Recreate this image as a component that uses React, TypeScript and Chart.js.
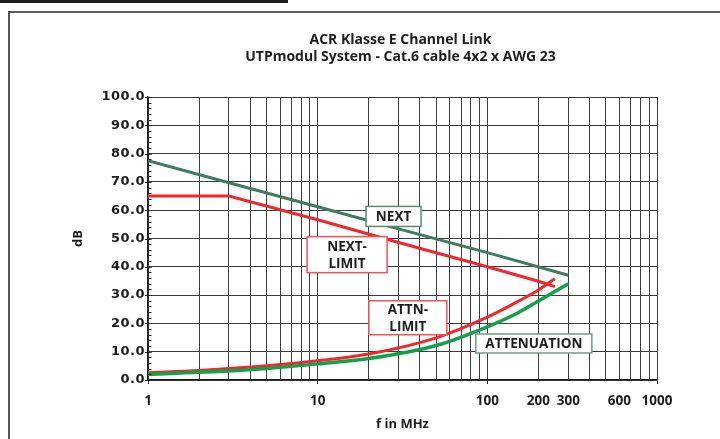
import React, { useEffect, useRef } from 'react';
import { Chart, registerables } from 'chart.js';

Chart.register(...registerables);

// ---------- texts ----------
const titleLines = ['ACR Klasse E Channel Link', 'UTPmodul System - Cat.6 cable 4x2 x AWG 23'];
const xAxisTitle = 'f in MHz';
const yAxisTitle = 'dB';

// ---------- axes ----------
const gridFrequencies = [1, 2, 3, 4, 5, 6, 7, 8, 9, 10, 20, 30, 40, 50, 60, 70, 80, 90, 100, 200, 300, 400, 500, 600, 700, 800, 900, 1000];
const xTickLabels = [1, 10, 100, 200, 300, 600, 1000];
const xDecades = [1, 10, 100, 1000];
const yMin = 0;
const yMax = 100;
const yStep = 10;
const yMinorStep = 2;

// ---------- series ----------
const nextFreq = [1, 3, 10, 30, 100, 300];
const nextDb = [77.5, 69.7, 61.2, 53.4, 45.0, 37.0];

const nextLimitFreq = [1, 3, 10, 30, 100, 200, 250];
const nextLimitDb = [65.0, 65.0, 56.6, 48.6, 40.0, 34.9, 33.0];

const attnLimitFreq = [1, 2, 5, 10, 20, 50, 100, 150, 200, 250];
const attnLimitDb = [2.6, 3.4, 5.0, 6.8, 9.2, 14.9, 22.2, 27.6, 31.8, 35.8];

const attenuationFreq = [1, 2, 5, 10, 20, 50, 100, 150, 200, 300];
const attenuationDb = [2.0, 2.7, 4.1, 5.7, 7.6, 12.2, 18.8, 23.6, 27.9, 34.0];

// ---------- label boxes (anchored in data coordinates) ----------
const labelBoxes = [
  { lines: ['NEXT'], freq: 28, db: 57.8, width: 55, height: 20, border: '#5b8a72' },
  { lines: ['NEXT-', 'LIMIT'], freq: 14.9, db: 44.3, width: 80, height: 36, border: '#f05252' },
  { lines: ['ATTN-', 'LIMIT'], freq: 34, db: 22.0, width: 78, height: 34, border: '#f05252' },
  { lines: ['ATTENUATION'], freq: 188, db: 12.9, width: 116, height: 19, border: '#6e9c86' },
];

const toPoints = (fs: number[], vs: number[]) => fs.map((f, i) => ({ x: f, y: vs[i] }));

const TEXT = '#1c1c1c';
const GRID = '#3c3c3c';

const decorPlugin = {
  id: 'decor',
  beforeDraw(chart: any) {
    const ctx = chart.ctx as CanvasRenderingContext2D;
    ctx.save();
    ctx.fillStyle = '#1e1e1e';
    ctx.fillRect(0, 0, 288, 3);
    ctx.strokeStyle = '#5a5a5a';
    ctx.lineWidth = 2;
    ctx.beginPath();
    ctx.moveTo(9, 12);
    ctx.lineTo(720, 12);
    ctx.stroke();
    ctx.strokeStyle = '#2a2a2a';
    ctx.lineWidth = 1.6;
    ctx.beginPath();
    ctx.moveTo(9, 11);
    ctx.lineTo(9, 439);
    ctx.stroke();

    const { left, right } = chart.chartArea;
    const cx = (left + right) / 2 - 2;
    ctx.fillStyle = TEXT;
    ctx.font = 'bold 14px "Open Sans"';
    ctx.textAlign = 'center';
    ctx.textBaseline = 'alphabetic';
    ctx.fillText(titleLines[0], cx, 43.6);
    ctx.fillText(titleLines[1], cx, 61.4);
    ctx.restore();
  },
  afterDatasetsDraw(chart: any) {
    const ctx = chart.ctx as CanvasRenderingContext2D;
    const xs = chart.scales.x;
    const ys = chart.scales.y;
    ctx.save();
    ctx.font = 'bold 13.5px "Open Sans"';
    ctx.textAlign = 'center';
    ctx.textBaseline = 'alphabetic';
    for (const b of labelBoxes) {
      const cx = xs.getPixelForValue(b.freq);
      const cy = ys.getPixelForValue(b.db);
      const x0 = cx - b.width / 2;
      const y0 = cy - b.height / 2;
      ctx.fillStyle = '#ffffff';
      ctx.fillRect(x0, y0, b.width, b.height);
      ctx.strokeStyle = b.border;
      ctx.lineWidth = 1.5;
      ctx.strokeRect(x0, y0, b.width, b.height);
      ctx.fillStyle = TEXT;
      const n = b.lines.length;
      b.lines.forEach((t, i) => {
        const lc = cy + (i - (n - 1) / 2) * 17.6;
        ctx.fillText(t, cx, lc + 4.8);
      });
    }
    ctx.restore();
  },
  afterDraw(chart: any) {
    const ctx = chart.ctx as CanvasRenderingContext2D;
    const ys = chart.scales.y;
    const axisX = chart.chartArea.left;
    ctx.save();
    ctx.strokeStyle = '#222';
    ctx.lineWidth = 1;
    for (let v = yMin; v <= yMax; v += yMinorStep) {
      const py = Math.round(ys.getPixelForValue(v)) + 0.5;
      const major = v % yStep === 0;
      ctx.beginPath();
      ctx.moveTo(axisX - (major ? 3 : 0.5), py);
      ctx.lineTo(axisX + 3.5, py);
      ctx.stroke();
    }
    ctx.restore();
  },
};

export default function App() {
  const ref = useRef<HTMLCanvasElement>(null);

  useEffect(() => {
    if (!ref.current) return;
    const chart = new Chart(ref.current, {
      type: 'line',
      data: {
        datasets: [
          {
            label: 'NEXT',
            data: toPoints(nextFreq, nextDb),
            borderColor: '#3f7b5e',
            borderWidth: 3,
            pointRadius: 0,
            tension: 0,
          },
          {
            label: 'NEXT-LIMIT',
            data: toPoints(nextLimitFreq, nextLimitDb),
            borderColor: '#f0282d',
            borderWidth: 3,
            pointRadius: 0,
            tension: 0,
          },
          {
            label: 'ATTENUATION',
            data: toPoints(attenuationFreq, attenuationDb),
            borderColor: '#12a04c',
            borderWidth: 3.5,
            pointRadius: 0,
            cubicInterpolationMode: 'monotone',
          },
          {
            label: 'ATTN-LIMIT',
            data: toPoints(attnLimitFreq, attnLimitDb),
            borderColor: '#f0282d',
            borderWidth: 3,
            pointRadius: 0,
            cubicInterpolationMode: 'monotone',
          },
        ],
      },
      options: {
        animation: false,
        responsive: true,
        maintainAspectRatio: false,
        layout: { padding: { left: 0, top: 97, right: 63, bottom: 0 } },
        plugins: {
          legend: { display: false },
          title: { display: false },
          tooltip: { enabled: false },
        },
        scales: {
          x: {
            type: 'logarithmic',
            min: 1,
            max: 1000,
            afterBuildTicks: (scale: any) => {
              scale.ticks = gridFrequencies.map((v) => ({ value: v }));
            },
            afterFit: (scale: any) => {
              scale.height = 59;
            },
            ticks: {
              autoSkip: false,
              maxRotation: 0,
              minRotation: 0,
              padding: 9,
              color: TEXT,
              font: { family: 'Open Sans', size: 13.5, weight: 'bold' },
              callback: (v: any) => (xTickLabels.includes(Number(v)) ? String(v) : ''),
            },
            grid: {
              color: GRID,
              lineWidth: 1,
              tickLength: 4,
              tickColor: (ctx: any) =>
                ctx.tick && xDecades.includes(Number(ctx.tick.value)) ? '#222' : 'rgba(0,0,0,0)',
            },
            border: { color: '#1e1e1e', width: 1.5 },
            title: {
              display: true,
              text: xAxisTitle,
              color: TEXT,
              font: { family: 'Open Sans', size: 13, weight: 'bold' },
              padding: { top: 0, bottom: 7 },
            },
          },
          y: {
            type: 'linear',
            min: yMin,
            max: yMax,
            afterFit: (scale: any) => {
              scale.width = 148;
              if (!scale.__spaced) {
                const orig = scale.drawLabels;
                scale.drawLabels = function (area: any) {
                  const c = this.ctx as any;
                  const prev = c.letterSpacing;
                  c.letterSpacing = '0.5px';
                  orig.call(this, area);
                  c.letterSpacing = prev || '0px';
                };
                scale.__spaced = true;
              }
            },
            ticks: {
              stepSize: yStep,
              padding: 3,
              color: TEXT,
              font: { family: 'DejaVu Sans', size: 13, weight: 'bold' },
              callback: (v: any) => Number(v).toFixed(1),
            },
            grid: {
              color: GRID,
              lineWidth: 1,
              drawTicks: false,
            },
            border: { color: '#1e1e1e', width: 1.5 },
            title: {
              display: true,
              text: yAxisTitle,
              color: TEXT,
              font: { family: 'Open Sans', size: 13, weight: 'bold' },
              padding: { top: 70, bottom: 0 },
            },
          },
        },
      },
      plugins: [decorPlugin],
    } as any);
    return () => chart.destroy();
  }, []);

  return (
    <div style={{ position: 'fixed', left: 0, top: 0, width: 720, height: 439, background: '#ffffff' }}>
      <canvas ref={ref} />
    </div>
  );
}
